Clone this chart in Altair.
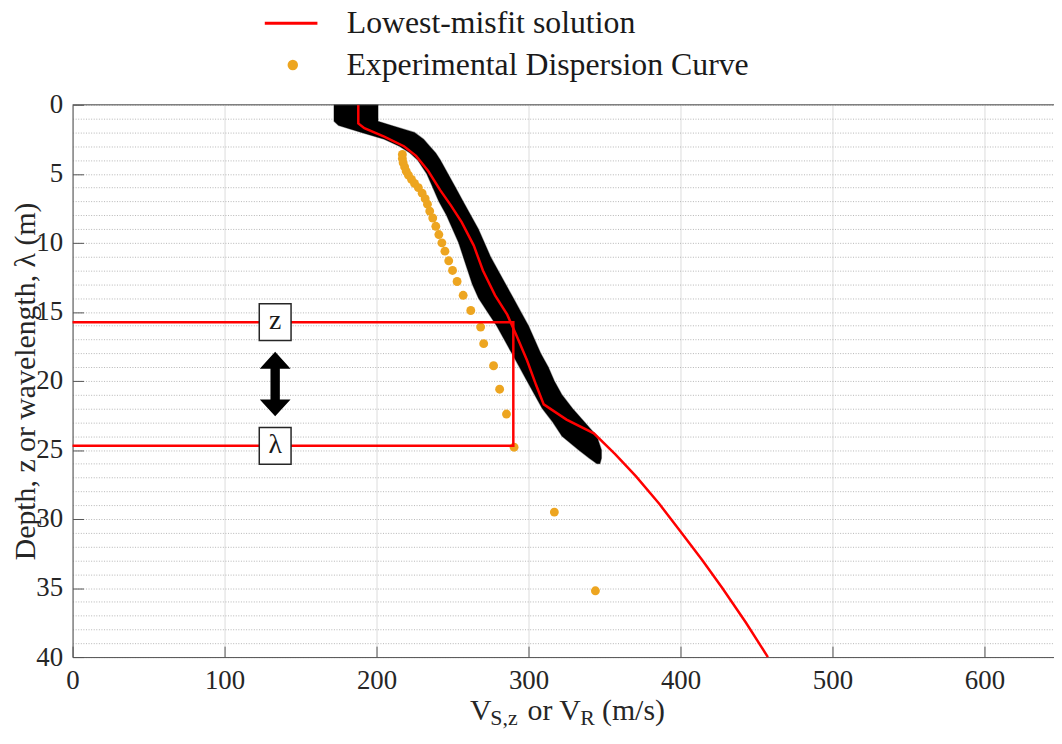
import altair as alt
import pandas as pd

# ---------------- data ----------------
# Lowest-misfit Vs profile
lm_depth = [0, 1.35, 1.7, 2.3, 3.0, 3.7, 4.8, 6.2, 7.3, 8.5, 10.2, 12.0, 13.8, 15.2, 16.7,
            18.5, 20.3, 21.7, 22.8, 23.8, 25.3, 26.9, 28.9, 30.9, 33.0, 35.0, 37.5, 40.0]
lm_vs = [188, 188, 192, 205, 218, 226, 234, 242, 249, 256, 264, 270, 278, 286, 292,
         299, 305, 310, 325, 343, 357, 370.6, 386, 400, 414.5, 427.5, 443, 457.5]

# Experimental dispersion curve (wavelength vs phase velocity)
disp_lambda = [3.6, 3.9, 4.2, 4.5, 4.8, 5.1, 5.4, 5.7, 6.0, 6.4, 6.8, 7.2, 7.7, 8.2, 8.8,
               9.4, 10.0, 10.6, 11.3, 12.0, 12.8, 13.8, 14.9, 16.1, 17.3, 18.9, 20.6,
               22.4, 24.8, 29.5, 35.2]
disp_vr = [217, 217, 217.5, 218.5, 219.5, 221, 223, 225, 227.5, 230, 232, 233.5, 235, 237,
           239, 241, 243, 245, 247.5, 250, 253, 257, 262, 268.5, 270.5, 277, 281, 285.5,
           290.5, 317, 344]

# Envelope of the accepted profiles (black band)
band_depth = [0, 1.2, 1.5, 2.0, 2.5, 3.0, 3.5, 4.0, 5.0, 6.0, 7.0, 8.0, 9.0, 10.0, 11.0,
              12.0, 13.0, 14.0, 15.0, 16.0, 17.0, 18.0, 19.0, 20.0, 21.0, 22.0, 23.0,
              24.0, 25.0, 25.6, 26.0]
band_lo = [172, 172, 175, 190, 205, 215, 222, 227, 233, 237, 241, 246, 250, 254, 257,
           260, 263, 267, 273, 279, 284, 289, 294, 299, 304, 309, 316, 322, 333, 340, 345]
band_hi = [201, 201, 210, 225, 231, 235, 239, 242, 247, 252, 257, 262, 267, 271, 275,
           280, 285, 290, 295, 300, 304, 308, 313, 317, 322, 329, 337, 345, 348, 348, 347]

# z / lambda annotation
z_depth = 15.75
lam_depth = 24.7
vr_mark = 290
anno_v = 133.3

x_ticks = [0, 100, 200, 300, 400, 500, 600]
y_ticks = list(range(0, 41))

LM = "Lowest-misfit solution"
ED = "Experimental Dispersion Curve"
RED = "#FF0000"
ORANGE = "#EDA520"
FONT = "Liberation Serif"
TXT = "#262626"
AX = "#555555"

W = 988
XMAX = W / 1.53

# ---------------- scales / axes ----------------
xscale = alt.Scale(domain=[0, XMAX], nice=False, zero=False)
yscale = alt.Scale(domain=[0, 40], nice=False, zero=False, reverse=True)

x_axis = alt.Axis(values=x_ticks, title=None, grid=True, gridColor="#dcdcdc", gridWidth=1,
                  domainColor=AX, tickColor=AX, tickSize={"expr": "-11"}, labelPadding=22,
                  labelFont=FONT, labelFontSize=27, labelColor=TXT, labelFlush=False)
y_axis = alt.Axis(values=y_ticks, title="Depth, z or wavelength, λ (m)",
                  titleFont=FONT, titleFontSize=30, titleFontWeight="normal", titleColor=TXT,
                  titleX=-38, titleY=278, titleAngle=-90, titleBaseline="alphabetic",
                  titleAlign="center",
                  grid=True, gridColor="#b5b5b5", gridDash=[1, 1.6], gridWidth=1,
                  domainColor=AX, tickColor=AX, tickSize={"expr": "-11"}, labelPadding=21,
                  tickOpacity={"condition": {"test": "datum.value % 5 === 0", "value": 1}, "value": 0},
                  labelExpr="datum.value % 5 === 0 ? datum.label : ''",
                  labelOverlap=False, labelFlush=False,
                  labelFont=FONT, labelFontSize=27, labelColor=TXT)


def X(f):
    return alt.X(f, type="quantitative", scale=xscale, axis=x_axis)


def Y(f):
    return alt.Y(f, type="quantitative", scale=yscale, axis=y_axis)


leg_line = alt.Legend(orient="none", legendX=192, legendY=-110, title=None, padding=0,
                      labelFont=FONT, labelFontSize=32, labelColor="#1a1a1a", labelOffset=28,
                      labelLimit=0, symbolType="stroke", symbolSize=2809, symbolStrokeWidth=3,
                      symbolStrokeColor=RED)
leg_pt = alt.Legend(orient="none", legendX=205.7, legendY=-56, title=None, padding=0,
                    labelFont=FONT, labelFontSize=32, labelColor="#1a1a1a", labelOffset=38,
                    labelLimit=0, symbolType="circle", symbolSize=110, symbolStrokeWidth=0,
                    symbolFillColor=ORANGE)

# ---------------- layers ----------------
band_df = pd.DataFrame({"depth": band_depth, "vlo": band_lo, "vhi": band_hi})
band = alt.Chart(band_df).mark_area(orient="horizontal", color="black", opacity=1,
                                    stroke="black", strokeWidth=1.2, strokeOpacity=0.35).encode(
    y=Y("depth"), x=X("vlo"), x2="vhi")

lm_df = pd.DataFrame({"depth": lm_depth, "vs": lm_vs, "series": LM, "o": range(len(lm_vs))})
lm = alt.Chart(lm_df).mark_line(strokeWidth=2.5).encode(
    x=X("vs"), y=Y("depth"), order="o:Q",
    color=alt.Color("series:N", scale=alt.Scale(domain=[LM], range=[RED]), legend=leg_line))

disp_df = pd.DataFrame({"lam": disp_lambda, "vr": disp_vr, "series": ED})
disp = alt.Chart(disp_df).mark_circle(size=80, opacity=1, strokeWidth=0).encode(
    x=X("vr"), y=Y("lam"),
    fill=alt.Fill("series:N", scale=alt.Scale(domain=[ED], range=[ORANGE]), legend=leg_pt))

zl_df = pd.DataFrame({"v": [0, vr_mark, vr_mark, 0], "d": [z_depth, z_depth, lam_depth, lam_depth],
                      "o": [0, 1, 2, 3]})
zl = alt.Chart(zl_df).mark_line(color=RED, strokeWidth=2.5).encode(
    x=X("v"), y=Y("d"), order="o:Q")

box_df = pd.DataFrame({"v": [anno_v, anno_v], "d": [z_depth, lam_depth], "t": ["z", "λ"]})
boxes = alt.Chart(box_df).mark_point(
    shape="M-0.865,-1H0.865V1H-0.865Z", size=1369, filled=True, fill="white",
    stroke="#262626", strokeWidth=1.5, opacity=1).encode(x=X("v"), y=Y("d"))
box_txt = alt.Chart(box_df).mark_text(font=FONT, fontSize=28, color="#1a1a1a",
                                      align="center", baseline="middle", dy=-1).encode(
    x=X("v"), y=Y("d"), text="t:N")

arrow_df = pd.DataFrame({"v": [anno_v], "d": [(z_depth + lam_depth) / 2]})
arrow = alt.Chart(arrow_df).mark_point(
    shape=("M0,-1L0.477,-0.477L0.145,-0.477L0.145,0.477L0.477,0.477L0,1L-0.477,0.477"
           "L-0.145,0.477L-0.145,-0.477L-0.477,-0.477Z"),
    size=4225, filled=True, color="black", opacity=1).encode(x=X("v"), y=Y("d"))

top_df = pd.DataFrame({"v0": [0], "v1": [XMAX], "d": [0]})
top = alt.Chart(top_df).mark_rule(color=AX, strokeWidth=1).encode(
    x=X("v0"), x2="v1", y=Y("d"))

# x-axis title with subscripts: V_{S,z} or V_R (m/s)
title_parts = [("V", 400, 619.5, 30), ("S,z", 420.5, 624.5, 22), ("or V", 458, 619.5, 30),
               ("R", 511, 624.5, 22), ("(m/s)", 533, 619.5, 30)]
title_layers = []
for t, px, py, fs in title_parts:
    title_layers.append(
        alt.Chart(alt.Data(values=[{"t": t}])).mark_text(
            font=FONT, fontSize=fs, color=TXT, align="left", baseline="alphabetic").encode(
            text="t:N", x=alt.value(px), y=alt.value(py)))

chart = alt.layer(band, lm, disp, zl, boxes, box_txt, arrow, top, *title_layers).properties(
    width=W, height=556,
    autosize=alt.AutoSizeParams(type="none"),
    padding={"left": 65, "top": 95, "right": 0, "bottom": 72},
).resolve_scale(color="independent", fill="independent").configure_view(
    stroke=None
).configure_axis(
    labelFont=FONT, titleFont=FONT
).configure_legend(
    labelFont=FONT, titleFont=FONT
).configure_text(font=FONT).configure(background="white", font=FONT)

chart.save("out.html", embed_options={"renderer": "svg", "actions": False})
